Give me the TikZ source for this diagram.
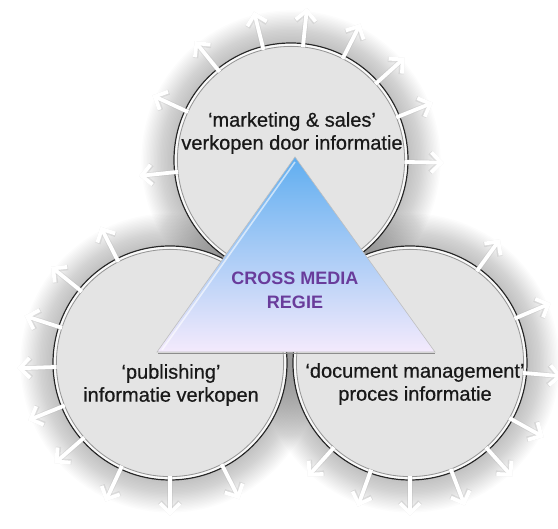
\documentclass[tikz,border=0pt]{standalone}
\usepackage{fontspec}
\setmainfont{Liberation Sans}
\newfontfamily\bubblefont[FakeBold=0.6]{Liberation Sans}
\usetikzlibrary{arrows.meta, calc}
\definecolor{bubblefill}{RGB}{228,228,228}
\definecolor{rimgray}{RGB}{150,150,150}
\definecolor{triTop}{RGB}{96,174,240}
\definecolor{triMid}{RGB}{170,212,248}
\definecolor{triBottom}{RGB}{244,234,252}
\definecolor{regiecolor}{RGB}{105,60,155}
\tikzset{
  bubble/.style={fill=bubblefill},
  rim/.style={draw=black!85, line width=1.2pt},
  rimgap/.style={draw=white, line width=1.8pt, opacity=0.8},
  innerrim/.style={draw=rimgray, line width=0.8pt},
  ray/.style={white, line width=3.8pt, -{Straight Barb[length=10pt, width=20pt]}},
  rayshade/.style={black!30, line width=5.4pt, opacity=0.3, -{Straight Barb[length=10pt, width=20pt]}},
  circtext/.style={align=center, font=\bubblefont\fontsize{20}{23}\selectfont, text=black!90},
  regietext/.style={align=center, font=\fontsize{18}{24}\selectfont\bfseries, text=regiecolor}
}
% soft grey halo round a circle
\newcommand{\halo}[1]{%
  \foreach \k in {1,...,24}
    \fill[black, opacity=0.01] (#1) circle ({116+1.4*\k});
}
% filled circle with its double rim
\newcommand{\bubble}[1]{%
  \fill[bubble] (#1) circle (117);
  \draw[rim] (#1) circle (117);
  \draw[rimgap] (#1) circle (115.2);
  \draw[innerrim] (#1) circle (113.6);
}
% white arrows pointing outward
\newcommand{\rays}[2]{%
  \foreach \ang in {#2} {
    \draw[rayshade] ($(#1)+(\ang:113.5)$) -- ($(#1)+(\ang:153)$);
    \draw[ray] ($(#1)+(\ang:113.5)$) -- ($(#1)+(\ang:153)$);
  }
}

\begin{document}
\begin{tikzpicture}[x=1pt, y=1pt]
    \useasboundingbox (0,0) rectangle (558,529);

    % Circle centres
    \coordinate (mkt) at (291,369);
    \coordinate (pub) at (170,166);
    \coordinate (doc) at (410,166);

    % Halos and circles
    \halo{mkt} \halo{pub} \halo{doc}
    \bubble{mkt} \bubble{pub} \bubble{doc}

    % Arrows
    \rays{mkt}{186,155,129,104,84,63,42,22,-1}
    \rays{pub}{117,141,162,182,202,221,245,270,297}
    \rays{doc}{54,23,-5,-29,-48,-69,-90,-110,-132}

    % Triangle
    \coordinate (apex) at (295,372);
    \coordinate (bl) at (157,177);
    \coordinate (br) at (435,177);
    \draw[black!45, line width=1.6pt] ($(bl)+(1,-1.5)$) -- ($(br)+(0,-1.5)$);
    \shade[top color=triTop, middle color=triMid, bottom color=triBottom, draw=black!25, line width=0.6pt]
        (apex) -- (br) -- (bl) -- cycle;
    \draw[white, opacity=0.6, line width=1.6pt] ($(bl)+(5,2)$) -- ($(apex)+(0,-5)$);

    % Texts
    \node[circtext] (mkttext) at (292,396) {‘marketing \& sales’\\verkopen door informatie};
    \node[circtext] (pubtext) at (171,144) {‘publishing’\\informatie verkopen};
    \node[circtext] (doctext) at (415,145) {‘document management’\\proces informatie};
    \node[regietext] (regie) at (295,239) {CROSS MEDIA\\REGIE};
\end{tikzpicture}
\end{document}
